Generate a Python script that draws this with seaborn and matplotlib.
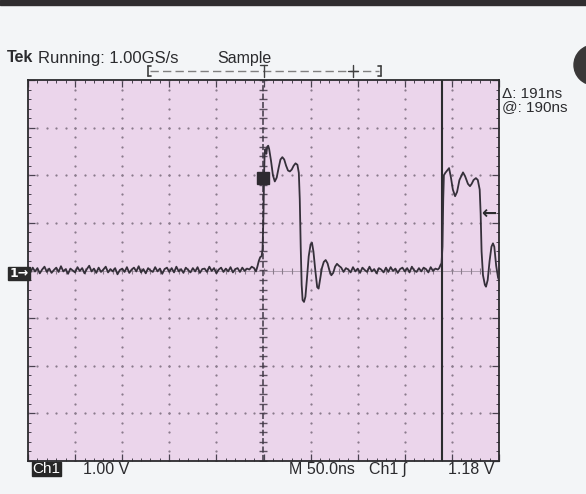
import numpy as np
import pandas as pd
import matplotlib
matplotlib.use("Agg")
import matplotlib.pyplot as plt
from matplotlib.patches import Rectangle, Ellipse
from matplotlib.lines import Line2D
import seaborn as sns

# Scope settings
ns_per_div = 50.0
volts_per_div = 1.00
cursor_a_ns = -1.0
cursor_b_ns = 190.0
trigger_level_v = 1.18
header_text = "Running: 1.00GS/s"
mode_text = "Sample"
delta_text = "Δ: 191ns"
at_text = "@: 190ns"

# Channel 1 record (time in ns, level in V)
# quiet baseline before the first edge, one point every 2.5 ns from -250 ns
pre_volts = [
    0.03, -0.04, 0.06, -0.02, 0.05, -0.06, 0.02, 0.08, -0.03, 0.04, -0.05, 0.01,
    0.06, -0.03, 0.09, -0.02, 0.03, -0.07, 0.04, 0.00, -0.04, 0.07, -0.01, 0.05,
    -0.06, 0.03, 0.10, -0.02, 0.04, -0.05, 0.06, -0.03, 0.02, 0.08, -0.04, 0.03,
    -0.02, 0.05, -0.08, 0.01, 0.04, -0.03, 0.07, -0.05, 0.02, 0.06, -0.02, 0.09,
    -0.04, 0.03, -0.06, 0.05, 0.00, -0.03, 0.07, -0.02, 0.04, -0.07, 0.03, 0.06,
    -0.03, 0.05, -0.04, 0.08, -0.02, 0.03, -0.05, 0.06, 0.01, -0.04, 0.05, -0.02,
    0.07, -0.05, 0.03, 0.04, -0.03, 0.08, -0.01, 0.05, -0.06, 0.02, 0.06, -0.03,
    0.04, -0.02, 0.07, -0.04, 0.03, 0.05, -0.03, 0.06, -0.01, 0.04, 0.02, 0.08,
]
pre_start_ns = -250.0

# first pulse with its overshoot ringing
pulse1_time = [
    -10, -8, -6.5, -5, -3.5, -2, -1, 0, 0.6, 1.2, 2, 3, 4, 5, 6, 8, 10, 12, 14,
    16, 18, 20, 22, 24, 26, 28, 30, 32, 34, 36, 37.5, 38.5, 39.5, 40.5, 41.5, 43,
    44.5, 46, 48, 50, 51.5, 53, 55, 57, 58.5, 60, 62, 64, 66, 68, 70, 72, 74, 76,
    78, 80,
]
pulse1_volts = [
    0.05, -0.02, 0.08, 0.20, 0.28, 0.30, 0.45, 1.20, 2.00, 2.45, 2.55, 2.45, 2.60,
    2.62, 2.55, 2.30, 2.00, 1.87, 1.95, 2.15, 2.33, 2.38, 2.33, 2.20, 2.10, 2.08,
    2.12, 2.20, 2.25, 2.22, 2.05, 1.50, 0.50, -0.30, -0.62, -0.66, -0.55, -0.20,
    0.30, 0.55, 0.58, 0.40, 0.00, -0.35, -0.38, -0.20, 0.05, 0.18, 0.22, 0.15,
    0.00, -0.10, -0.05, 0.08, 0.14, 0.10,
]

# baseline between the pulses, one point every 2.5 ns from 82.5 ns
mid_volts = [
    0.06, -0.03, 0.05, 0.02, -0.04, 0.07, -0.02, 0.04, -0.05, 0.06, 0.01, -0.03,
    0.08, -0.02, 0.03, -0.06, 0.05, 0.02, -0.04, 0.06, -0.03, 0.07, -0.01, 0.04,
    -0.05, 0.03, 0.06, -0.02, 0.05, -0.04, 0.08, 0.00, -0.03, 0.05, -0.02, 0.06,
    0.03, -0.04, 0.07, -0.01, 0.04, 0.02,
]
mid_start_ns = 82.5

# second pulse, cut off by the right edge of the record
pulse2_time = [
    186.5, 188, 189, 190, 190.8, 191.5, 193, 195, 197, 199, 201, 203.4, 205.5,
    208, 211.8, 214, 217, 219.2, 221, 223, 225.5, 227.5, 229.5, 230.5, 231.5, 233,
    235, 236.2, 238, 240, 242, 243.6, 245, 247, 249, 250,
]
pulse2_volts = [
    0.05, 0.12, 0.15, 0.50, 1.50, 2.00, 2.05, 2.10, 2.15, 1.95, 1.70, 1.56, 1.65,
    1.90, 2.06, 1.98, 1.82, 1.77, 1.82, 1.90, 1.94, 1.90, 1.70, 1.20, 0.40, -0.10,
    -0.30, -0.34, -0.20, 0.20, 0.50, 0.57, 0.50, 0.10, -0.15, -0.20,
]

# cursor readout marker on cursor A
marker_volts = 1.94

W, H = 586, 494
BG_OUT = "#f3f5f7"
BG_SCREEN = "#ebd5eb"
TRACE = "#35303a"
DOT = "#8a7b8c"
INK = "#2b2b2e"

sns.set_theme(style="white")
plt.rcParams["font.family"] = ["Liberation Sans", "DejaVu Sans"]

pre_time = pre_start_ns + 2.5 * np.arange(len(pre_volts))
mid_time = mid_start_ns + 2.5 * np.arange(len(mid_volts))
trace = pd.DataFrame({
    "time_ns": np.concatenate([pre_time, pulse1_time, mid_time, pulse2_time]),
    "volts": np.concatenate([pre_volts, pulse1_volts, mid_volts, pulse2_volts]),
})

fig = plt.figure(figsize=(W / 100, H / 100), dpi=100, facecolor=BG_OUT)


def px(x, y):
    return x / W, 1 - y / H


# screen area
left, right, top, bottom = 28, 499, 80, 461
ax = fig.add_axes([left / W, 1 - bottom / H, (right - left) / W, (bottom - top) / H])
ax.set_facecolor(BG_SCREEN)
half_t = 5 * ns_per_div
half_v = 4 * volts_per_div
ax.set_xlim(-half_t, half_t)
ax.set_ylim(-half_v, half_v)

# graticule: dotted division lines
div_t = np.arange(-4, 5) * ns_per_div
div_v = np.arange(-3, 4) * volts_per_div
fine_t = np.arange(-half_t, half_t + 1e-6, ns_per_div / 5)
fine_v = np.arange(-half_v, half_v + 1e-6, volts_per_div / 5)
gx, gy = [], []
for t in div_t:
    if t == 0:
        continue
    gx += [t] * len(fine_v)
    gy += list(fine_v)
for v in div_v:
    if v == 0:
        continue
    gx += list(fine_t)
    gy += [v] * len(fine_t)
ax.scatter(gx, gy, s=2.6, color=DOT, linewidths=0, zorder=1)

# centre cross with fine ticks
ax.axhline(0, color="#a596a6", lw=0.6, zorder=1)
ax.plot(fine_t, np.zeros_like(fine_t), ls="none", marker="|", ms=5, mew=0.8,
        color="#8a7b8c", zorder=1)
ax.plot(np.zeros_like(fine_v) + cursor_a_ns, fine_v, ls="none", marker="_", ms=6,
        mew=1.0, color="#5d5060", zorder=2)
ax.axvline(cursor_a_ns, color="#3f3845", lw=1.1, ls=(0, (4, 1.5)), zorder=2)

# cursor B
ax.axvline(cursor_b_ns, color=INK, lw=1.5, zorder=3)

# waveform
sns.lineplot(data=trace, x="time_ns", y="volts", ax=ax, estimator=None, sort=False,
             color=TRACE, lw=1.3, zorder=4)
ax.plot([cursor_a_ns], [marker_volts], marker="s", ms=8, color="#2e2a30", zorder=5)

# trigger level arrow
ax.text(half_t - 3, trigger_level_v, "←", ha="right", va="center", fontsize=13,
        fontweight="bold", color=INK, family=["DejaVu Sans"], zorder=6)

ax.set_xlabel("")
ax.set_ylabel("")
ax.set_xticks(np.arange(-half_t, half_t + 1, ns_per_div))
ax.set_xticks(fine_t, minor=True)
ax.set_yticks(np.arange(-half_v, half_v + 0.01, volts_per_div))
ax.set_yticks(fine_v, minor=True)
ax.tick_params(which="both", direction="in", top=True, right=True, bottom=True,
               left=True, labelbottom=False, labelleft=False, color="#4a4250")
ax.tick_params(which="major", length=5, width=0.9)
ax.tick_params(which="minor", length=2.5, width=0.7)
for s in ax.spines.values():
    s.set_color(INK)
    s.set_linewidth(1.3)

# dark strip along the top edge
fig.patches.append(Rectangle((0, 1 - 5 / H), 1, 5 / H, transform=fig.transFigure,
                             color="#2f2d2f", zorder=0))
# front-panel knob in the corner
fig.patches.append(Ellipse(px(594, 65), 40 / W, 40 / H, transform=fig.transFigure,
                           color="#3a3838", zorder=0))

# header
fig.text(*px(7, 58), "Tek", fontsize=11.5, fontweight="bold", color=INK,
         va="center", ha="left")
fig.text(*px(38, 58), header_text, fontsize=12, color=INK, va="center", ha="left")
fig.text(*px(217, 58), mode_text, fontsize=11.5, color=INK, va="center", ha="left")

# record position bracket
yb = 71
fig.lines.append(Line2D([150 / W, 379 / W], [1 - yb / H] * 2, transform=fig.transFigure,
                        color="#808080", lw=1.0, ls=(0, (6, 3))))
for xb, sgn in [(148, 1), (381, -1)]:
    fig.lines.append(Line2D([xb / W, xb / W], [1 - (yb - 5) / H, 1 - (yb + 5) / H],
                            transform=fig.transFigure, color="#404040", lw=1.2))
    fig.lines.append(Line2D([xb / W, (xb + 3 * sgn) / W], [1 - (yb - 5) / H] * 2,
                            transform=fig.transFigure, color="#404040", lw=1.2))
    fig.lines.append(Line2D([xb / W, (xb + 3 * sgn) / W], [1 - (yb + 5) / H] * 2,
                            transform=fig.transFigure, color="#404040", lw=1.2))
fig.lines.append(Line2D([263.5 / W] * 2, [1 - (yb - 6) / H, 1 - (yb + 6) / H],
                        transform=fig.transFigure, color="#404040", lw=1.0))
fig.lines.append(Line2D([260 / W, 267 / W], [1 - (yb - 6) / H] * 2,
                        transform=fig.transFigure, color="#404040", lw=1.0))
fig.lines.append(Line2D([353 / W] * 2, [1 - (yb - 6) / H, 1 - (yb + 6) / H],
                        transform=fig.transFigure, color="#404040", lw=1.0))
fig.lines.append(Line2D([348 / W, 358 / W], [1 - yb / H] * 2,
                        transform=fig.transFigure, color="#404040", lw=1.0))

# cursor readouts
fig.text(*px(502, 94), delta_text, fontsize=11, color=INK, va="center", ha="left")
fig.text(*px(502, 107), at_text, fontsize=11, color=INK, va="center", ha="left")

# channel ground marker
fig.patches.append(Rectangle(px(8, 280), 22 / W, 13 / H, transform=fig.transFigure,
                             color="#2a2a2a", zorder=2))
fig.text(*px(19, 273.5), "1→", fontsize=9, fontweight="bold", color="white",
         va="center", ha="center", family=["DejaVu Sans"], zorder=3)

# bottom status line
fig.patches.append(Rectangle(px(32, 476), 29 / W, 14 / H, transform=fig.transFigure,
                             color="#262626", zorder=2))
fig.text(*px(46.5, 469), "Ch1", fontsize=11, color="white", va="center", ha="center",
         zorder=3)
fig.text(*px(83, 469), f"{volts_per_div:.2f} V", fontsize=11.5, color=INK,
         va="center", ha="left")
fig.text(*px(289, 469), f"M {ns_per_div:.1f}ns", fontsize=11.5, color=INK,
         va="center", ha="left")
fig.text(*px(369, 469), "Ch1 ʃ", fontsize=11.5, color=INK, va="center", ha="left")
fig.text(*px(448, 469), f"{trigger_level_v:.2f} V", fontsize=11.5, color=INK,
         va="center", ha="left")

fig.savefig("out.png", dpi=100, facecolor=BG_OUT)
